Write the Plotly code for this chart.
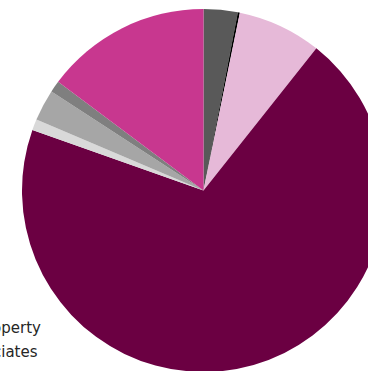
import plotly.graph_objects as go

# Slice data (clockwise from 12 o'clock), values in percent
categories = ["Segment A", "Segment B", "Segment C", "Segment D",
              "Segment E", "Segment F", "Segment G", "Segment H"]
values = [3.03, 0.18, 7.47, 69.72, 0.97, 2.80, 1.03, 14.78]
colors = ["#595959", "#000000", "#e6b9d8", "#6b0042",
          "#d9d9d9", "#a6a6a6", "#7f7f7f", "#c8378f"]

legend_texts = ["Investment property", "Investments in associates"]

W, H = 385, 372
fig = go.Figure(go.Pie(
    labels=categories,
    values=values,
    sort=False,
    direction="clockwise",
    rotation=0,
    textinfo="none",
    hoverinfo="label+percent",
    marker=dict(colors=colors, line=dict(width=0)),
    domain=dict(x=[22 / W, 1], y=[0, 1 - 9 / H]),
    showlegend=False,
))

# partially visible legend texts on the left edge
ends_px = [42.7, 39.5]
base_px = [333, 357]
for txt, xe, yb in zip(legend_texts, ends_px, base_px):
    fig.add_annotation(
        text=txt, xref="paper", yref="paper",
        x=xe / W, y=1 - (yb - 5) / H,
        xanchor="right", yanchor="middle",
        showarrow=False,
        font=dict(family="DejaVu Sans", size=15, color="#262626"),
    )

fig.update_layout(
    width=W, height=H,
    margin=dict(l=0, r=0, t=0, b=0),
    paper_bgcolor="white",
    plot_bgcolor="white",
)

fig.write_html(
    "out.html",
    post_script="document.body.style.margin='0';document.body.style.overflow='hidden';"
                "document.documentElement.style.overflow='hidden';",
)
